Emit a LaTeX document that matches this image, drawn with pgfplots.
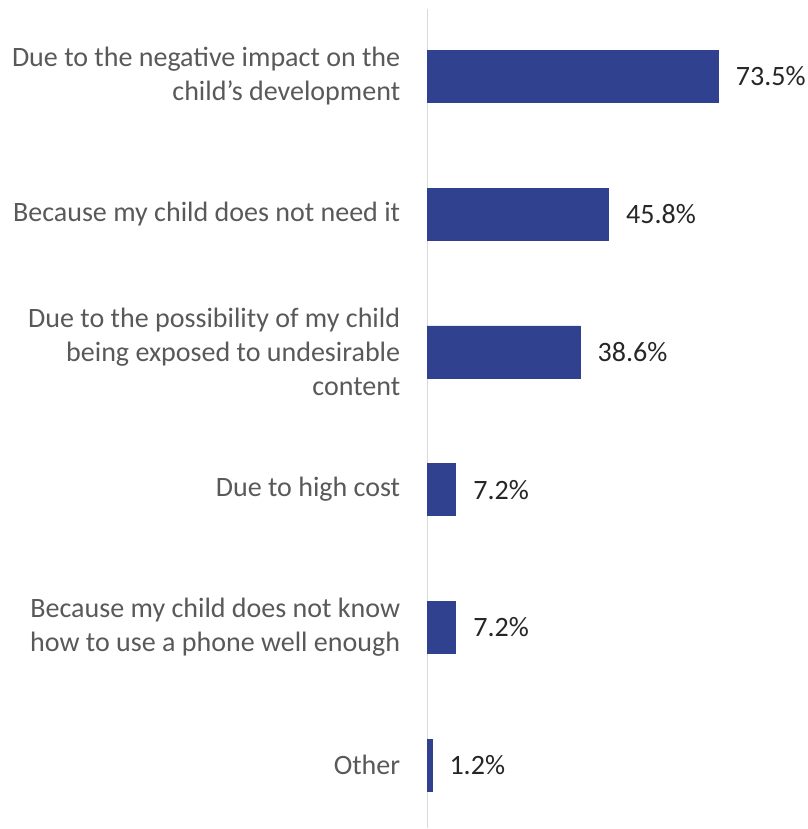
\documentclass[border=0pt]{standalone}
\usepackage{fontspec}
\setmainfont{Carlito}
\usepackage{pgfplots}
\pgfplotsset{compat=1.18}
\definecolor{barblue}{RGB}{47,65,143}
\definecolor{labgray}{RGB}{89,89,89}
\definecolor{valgray}{RGB}{38,38,38}
\definecolor{axgray}{RGB}{217,217,217}
\begin{document}
\fontsize{21}{25.5}\selectfont
\begin{tikzpicture}
\begin{axis}[
  name=ax,
  scale only axis,
  width=282pt, height=613.6pt,
  xbar, bar width=39pt,
  xmin=0, xmax=95,
  ymin=-0.487, ymax=5.46,
  y dir=reverse,
  hide x axis,
  axis y line*=left,
  y axis line style={draw=axgray, line width=0.9pt},
  ytick={0,1,2,3,4,5},
  major tick length=0pt,
  yticklabels={
    {Due to the negative impact on the\\child’s development},
    {Because my child does not need it},
    {Due to the possibility of my child\\being exposed to undesirable\\content},
    {Due to high cost},
    {Because my child does not know\\how to use a phone well enough},
    {Other}},
  yticklabel style={align=right, anchor=east, inner sep=0pt, xshift=-20pt, text=labgray, font=\fontsize{21}{25.5}\selectfont},
  point meta=explicit symbolic,
  nodes near coords={\pgfplotspointmeta\%},
  nodes near coords style={text=valgray, font=\fontsize{21}{25.5}\selectfont, anchor=west, inner sep=0pt, xshift=13pt},
  clip=false,
]
\addplot[fill=barblue, draw=barblue] coordinates {
  (73.5,0) [73.5]
  (45.8,1) [45.8]
  (38.6,2) [38.6]
  (7.2,3) [7.2]
  (7.2,4) [7.2]
  (1.2,5) [1.2]
};
\end{axis}
\path ([xshift=-320pt]ax.south west) rectangle ([xshift=3pt, yshift=7pt]ax.north east);
\end{tikzpicture}
\end{document}
